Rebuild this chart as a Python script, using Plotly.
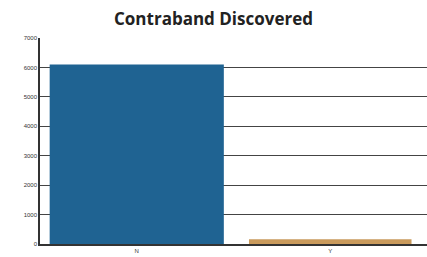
import plotly.graph_objects as go

categories = ["N", "Y"]
values = [6100, 160]
colors = ["#1f6392", "#c99a5c"]
tick_vals = [0, 1000, 2000, 3000, 4000, 5000, 6000, 7000]

fig = go.Figure()
fig.add_trace(go.Bar(x=categories, y=values, marker=dict(color=colors, line=dict(width=0)), width=[0.9, 0.84]))

fig.update_layout(
    width=427, height=257,
    margin=dict(l=40, r=0, t=38, b=13),
    paper_bgcolor="white", plot_bgcolor="white",
    showlegend=False,
    title=dict(text="<b>Contraband Discovered</b>", x=0.5, xanchor="center", y=1 - 19 / 257, yanchor="middle",
               font=dict(family="Open Sans", size=17, color="#222")),
    font=dict(family="Liberation Sans", color="#333"),
    bargap=0.1,
)
fig.update_yaxes(range=[0, 7000], tickvals=tick_vals, showgrid=True, gridcolor="#444", gridwidth=1.2,
                 tickfont=dict(size=6, color="#333"), showline=True, linecolor="#333", linewidth=1.5,
                 ticks="", zeroline=False)
fig.update_xaxes(tickfont=dict(size=6, color="#333"), showline=True, linecolor="#333", linewidth=1.5,
                 ticklen=0)
fig.write_html(
    "out.html",
    config={"displayModeBar": False},
    post_script=(
        "document.body.style.margin='0';"
        "document.body.style.overflow='hidden';"
        "document.documentElement.style.overflow='hidden';"
    ),
)
